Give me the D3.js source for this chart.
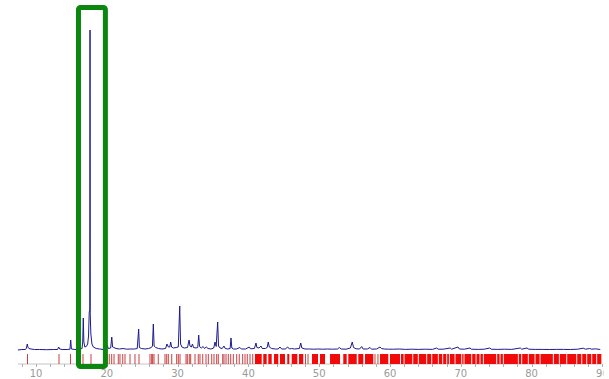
<!DOCTYPE html>
<html>
<head>
<meta charset="utf-8">
<script src="https://cdn.jsdelivr.net/npm/d3@7"></script>
<style>
  html, body { margin: 0; padding: 0; background: #fff; }
  svg { display: block; font-family: "DejaVu Sans", Arial, sans-serif; }
</style>
</head>
<body>
<svg id="chart" width="609" height="379"></svg>
<script>
// measured pattern: [2theta (deg), intensity]
const pattern = [
  [7.45,0],[8.0,0.5],[8.5,0.5],[8.65,2],[8.77,6],[8.85,3],[9.0,1.5],[9.3,1],[9.8,0.5],[10.5,0.5],[11.5,0.3],[12.5,0.5],
  [13.05,0.5],[13.2,3],[13.35,1],[13.7,0.5],[14.4,0.5],[14.8,0.8],[14.9,10],[15.0,1],[15.5,0.5],[16.2,0.8],[16.5,1.5],
  [16.6,8],[16.68,32],[16.76,8],[16.9,3],[17.1,3.5],[17.3,6],[17.42,14],[17.52,38],[17.6,40],[17.63,320],[17.66,36],
  [17.75,16],[17.9,6],[18.1,3],[18.5,1.5],[19.0,1],[19.5,0.5],[19.95,1],[20.07,5],[20.2,1.5],[20.55,2],[20.7,13],
  [20.82,3],[21.0,2.5],[21.3,1.5],[21.8,1],[22.3,1.5],[22.8,0.8],[23.3,1],[23.9,1],[24.3,1.5],[24.5,21],[24.6,2.5],
  [24.9,1.5],[25.4,1],[25.9,1.5],[26.3,2.5],[26.45,4],[26.57,26],[26.68,4],[26.9,2.5],[27.3,1.5],[27.8,1],[28.3,1.5],
  [28.5,6],[28.7,3],[28.9,3],[29.02,8],[29.15,3],[29.4,2],[29.8,2.5],[30.1,3],[30.3,44],[30.42,6],[30.6,3],[30.95,2],
  [31.4,2.5],[31.62,10],[31.75,4],[31.95,3],[32.1,6],[32.25,2.5],[32.6,2],[32.85,2.5],[32.98,15],[33.1,3.5],[33.35,2],
  [33.6,3.5],[33.8,1.5],[34.05,3],[34.3,1.5],[34.7,1],[35.1,2],[35.28,8],[35.45,3.5],[35.66,28],[35.78,4],[36.0,2],
  [36.3,1.5],[36.55,4],[36.72,1.5],[37.1,1],[37.42,1.5],[37.54,12],[37.66,2],[37.9,1],[38.3,1],[38.8,2.5],[39.0,1],
  [39.6,1],[40.13,3],[40.3,1.2],[40.85,1.5],[41.07,7],[41.2,2.5],[41.5,2],[41.78,4],[41.95,1.5],[42.4,1.5],[42.65,2.5],
  [42.81,8],[42.95,3],[43.3,1.5],[43.8,1],[44.2,1],[44.46,3],[44.7,1],[45.2,1],[45.55,3],[45.8,1],[46.1,1.5],[46.5,1],
  [47.2,1.5],[47.39,7],[47.55,2],[48.0,1],[48.6,1],[49.2,0.8],[49.8,1],[50.5,0.8],[51.2,1],[51.9,0.8],[52.6,1],
  [52.84,2.5],[53.1,1],[53.8,0.8],[54.4,2],[54.67,8],[54.85,2.5],[55.2,1.2],[55.7,1],[56.0,3.5],[56.2,1],[56.8,1],
  [57.18,2.5],[57.4,0.8],[58.1,1],[58.59,3],[58.8,1.5],[59.2,1],[59.8,0.8],[60.5,0.8],[61.3,1],[62.2,0.6],[63.0,0.8],
  [64.0,0.6],[65.0,0.8],[66.0,0.6],[66.6,2],[66.8,0.8],[67.5,0.8],[68.5,2],[68.7,0.8],[69.6,3],[69.8,1],[70.5,0.8],
  [71.3,2],[71.5,0.8],[72.5,0.6],[73.3,0.8],[74.1,2],[74.3,0.8],[75.2,0.6],[76.2,0.8],[77.2,0.6],[78.4,2],[78.6,0.8],
  [79.35,2],[79.6,0.8],[80.5,0.6],[81.5,0.6],[82.5,0.5],[83.5,0.6],[84.5,0.6],[85.5,0.5],[86.5,0.8],[87.3,1.8],
  [87.6,0.8],[88.2,1.5],[88.5,0.8],[89.0,1.2],[89.7,0.5]
];

// reference lines (single sticks), 2theta
const refSticks = [
  8.80, 13.25, 14.87, 16.64, 17.77,
  20.07, 20.35, 20.69, 21.02, 21.62, 21.86, 22.25, 22.57, 23.28, 23.98, 24.55, 26.10, 26.34, 26.48, 26.67, 27.27,
  28.22, 28.46, 28.69, 29.17, 29.87, 30.10, 30.34, 31.19, 31.37, 31.65, 31.85, 32.46, 32.92, 33.16, 33.55, 34.01,
  34.34, 34.82, 35.14, 35.52, 35.75, 36.37, 36.55, 36.84, 37.16, 37.50, 37.87, 38.35, 38.71, 39.19, 39.52, 39.84,
  40.23, 40.61, 48.07, 48.42, 57.88, 58.30
];

// where reference lines are too dense to separate: [from, to] 2theta
const refBands = [
  [40.93,41.88],[42.10,42.58],[42.81,43.29],[43.62,44.22],[44.46,45.17],[45.49,45.78],[46.12,46.91],[47.15,47.75],
  [48.98,49.83],[50.11,50.82],[51.53,52.94],[53.40,53.88],[54.11,55.30],[55.52,56.23],[56.47,57.64],[58.59,59.76],
  [60.0,61.41],[61.55,61.92],[62.05,63.15],[63.28,63.93],[64.07,65.12],[65.25,65.83],[65.96,66.76],[66.89,67.38],
  [67.51,67.95],[68.08,68.32],[68.45,69.12],[69.25,70.07],[70.2,70.39],[70.52,71.48],[71.61,72.09],[72.22,72.65],
  [72.78,73.12],[73.25,75.0],[75.14,75.48],[75.61,75.94],[76.07,78.06],[78.19,78.54],[78.67,79.47],[79.6,80.42],
  [80.55,81.13],[81.26,83.0],[83.14,83.85],[83.98,84.9],[85.03,86.31],[86.44,87.02],[87.15,87.72],[87.85,88.43],
  [88.56,89.13],[89.26,89.85]
];

const majorTicks = [10, 20, 30, 40, 50, 60, 70, 80, 90];
const minorTicks = d3.range(8, 91, 2);
const highlight = [16.0, 19.8]; // 2theta window of the boxed peak

const svg = d3.select('#chart');
const x = d3.scaleLinear().domain([10, 90]).range([36, 602.4]);
const y = d3.scaleLinear().domain([0, 320]).range([350, 30]);

svg.append('rect').attr('width', 609).attr('height', 379).attr('fill', '#fff');

// the original picture is cut just after the last label's first digit
svg.append('defs').append('clipPath').attr('id', 'labelclip')
    .append('rect').attr('x', 0).attr('y', 0).attr('width', 603.5).attr('height', 379);

// axis
const axisY = 364;
svg.append('line')
    .attr('x1', x(7.45)).attr('x2', x(89.85))
    .attr('y1', axisY).attr('y2', axisY)
    .attr('stroke', '#c4c4c4').attr('stroke-width', 1);
svg.append('g').selectAll('line')
    .data(minorTicks).enter().append('line')
    .attr('x1', d => Math.round(x(d)) + 0.5).attr('x2', d => Math.round(x(d)) + 0.5)
    .attr('y1', axisY).attr('y2', axisY + 3)
    .attr('stroke', '#b0b0b0');
svg.append('g').attr('clip-path', 'url(#labelclip)').selectAll('text')
    .data(majorTicks).enter().append('text')
    .attr('x', d => x(d)).attr('y', 377)
    .attr('text-anchor', 'middle')
    .attr('font-size', 10)
    .attr('fill', '#9a9a9a')
    .text(d => d);

// reference pattern sticks
const stickTop = 354, stickBottom = 364;
svg.append('g').selectAll('rect')
    .data(refBands).enter().append('rect')
    .attr('x', d => x(d[0])).attr('width', d => x(d[1]) - x(d[0]))
    .attr('y', stickTop).attr('height', stickBottom - stickTop)
    .attr('fill', '#f00a0a');
svg.append('g').selectAll('line')
    .data(refSticks).enter().append('line')
    .attr('x1', d => x(d)).attr('x2', d => x(d))
    .attr('y1', stickTop).attr('y2', stickBottom)
    .attr('stroke', '#c21f1f').attr('stroke-width', 1).attr('stroke-opacity', 0.85);

// measured profile
const line = d3.line().x(d => x(d[0])).y(d => y(d[1]));
svg.append('path')
    .datum(pattern)
    .attr('d', line)
    .attr('fill', 'none')
    .attr('stroke', '#1b1b8f')
    .attr('stroke-width', 1)
    .attr('stroke-linejoin', 'round');

// highlight box round the strongest peak
svg.append('rect')
    .attr('x', x(highlight[0])).attr('y', 7.5)
    .attr('width', x(highlight[1]) - x(highlight[0])).attr('height', 359)
    .attr('rx', 2)
    .attr('fill', 'none')
    .attr('stroke', '#0b870f')
    .attr('stroke-width', 5);
</script>
</body>
</html>
